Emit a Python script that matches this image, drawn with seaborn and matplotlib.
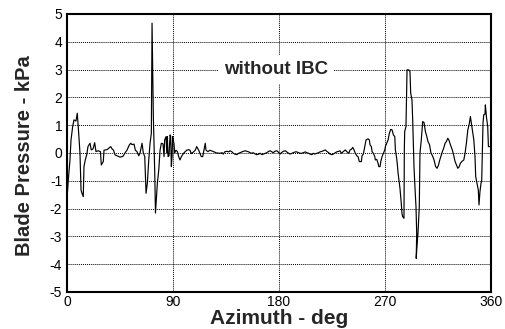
import matplotlib
matplotlib.use("Agg")
import matplotlib.pyplot as plt
import seaborn as sns
import numpy as np
from matplotlib.ticker import MultipleLocator

azimuth = [
    0.0, 1.1, 2.5, 3.4, 4.8, 5.9, 7.6, 8.7, 9.9, 11.0, 11.5, 11.9, 12.7, 13.8, 14.4, 15.5, 16.7, 17.8,
    19.5, 20.6, 22.1, 23.5, 24.6, 26.3, 28.4, 29.1, 30.8, 31.4, 34.0, 37.1, 38.2, 39.5, 40.8, 42.5,
    45.0, 47.5, 49.2, 50.9, 52.9, 54.1, 55.2, 56.9, 58.0, 59.4, 60.9, 62.0, 63.7, 64.8, 66.0, 67.1,
    68.2, 69.4, 70.5, 71.6, 72.2, 73.3, 74.5, 75.1, 76.7, 77.9, 79.0, 80.1, 81.5, 82.4, 82.9, 84.1,
    84.7, 85.2, 85.8, 86.6, 87.5, 88.0, 88.6, 89.2, 89.7, 90.2, 90.8, 91.4, 92.5, 93.7, 94.8, 95.9,
    97.1, 98.8, 99.9, 101.6, 103.3, 104.4, 105.5, 107.2, 108.9, 110.1, 111.8, 112.9, 114.0, 115.2,
    116.3, 117.4, 118.0, 119.7, 121.4, 124.2, 127.1, 129.9,
    131.6, 132.7, 133.9, 135.6, 137.3, 138.4, 140.1, 141.2, 142.4, 144.1, 145.8, 146.9, 148.6, 149.7,
    151.4, 152.6, 154.3, 155.4, 157.1, 158.2, 159.9, 161.1, 162.8, 163.9, 165.6, 166.7, 168.4, 169.6,
    171.3, 172.4, 174.1, 175.2, 176.4, 178.1, 179.2, 180.3, 180.9, 182.0, 183.7, 185.4, 186.5, 188.2,
    189.3, 191.0, 192.2, 193.8, 195.0, 196.7, 197.8, 199.5, 200.6, 202.3, 203.5, 205.2, 206.3, 208.0,
    209.1, 210.3, 212.0, 213.7, 214.8, 216.5, 217.6, 219.3, 220.5, 222.2, 223.3, 225.0, 226.1, 227.8,
    229.0, 230.7, 231.8,
    232.9, 234.6, 236.3, 237.5, 239.2, 240.3, 241.4, 242.6, 243.7, 244.8, 246.0, 247.1, 248.2, 249.9,
    250.5, 251.6, 252.8, 253.9, 255.6, 256.7, 257.3, 258.4, 259.0, 260.1, 261.3, 261.8, 263.0, 264.1,
    264.7, 265.8, 266.4, 267.5, 268.6, 269.8, 270.3, 271.4, 272.6, 273.7, 274.9, 276.0, 277.1, 278.3,
    278.8, 279.9, 280.5, 281.1, 282.2, 282.7, 283.8, 284.4, 285.0, 286.1, 286.4, 286.7, 287.8, 288.7,
    290.1, 291.2, 291.8, 292.9, 293.5, 294.0, 294.6, 295.5, 296.3, 296.9, 296.5, 297.2, 298.0, 299.1,
    299.7, 300.8, 302.0, 303.1, 304.3, 305.5, 306.5, 307.8, 309.0, 310.3, 311.6, 313.0, 314.2, 315.3,
    316.5, 317.6, 318.7, 319.8, 321.0, 322.1, 323.3, 324.4, 325.5, 327.2, 328.4, 329.5, 330.6, 331.8,
    332.9, 334.0, 335.4, 336.9, 338.0, 339.1, 340.3, 341.4, 342.5, 344.2, 345.4, 346.4, 347.0, 348.1,
    349.2, 349.8, 350.6, 351.5, 352.1, 353.2, 353.8, 354.9, 355.2, 356.1, 357.2, 357.8, 360.0,
]

pressure = [
    -1.65, -0.97, -0.25, 0.47, 0.95, 1.19, 1.15, 1.43, 0.72, 0.0, -0.72, -1.33, -1.45, -1.57, -0.49, -0.25, -0.07, 0.23,
    0.35, 0.11, 0.15, 0.37, 0.05, 0.08, 0.05, -0.43, -0.31, 0.1, 0.12, 0.23, 0.15, 0.1, -0.07, -0.1,
    -0.15, -0.12, 0.0, 0.1, 0.29, 0.35, 0.3, 0.32, 0.1, 0.05, -0.1, 0.0, 0.35, 0.0, -0.13, -1.45,
    -1.09, -0.25, 0.35, 0.71, 4.67, 1.31, -0.73, -2.16, -1.09, -0.61, 0.1, 0.35, 0.33, -0.13, 0.47, 0.59,
    0.0, 0.59, -0.13, -0.1, 0.65, 0.6, -0.49, -0.13, 0.59, 0.45, 0.35, 0.0, 0.1, 0.05, -0.13, -0.25,
    -0.13, -0.02, 0.03, 0.1, 0.12, 0.1, -0.02, 0.03, 0.1, 0.23, 0.1, -0.02, -0.13, -0.13,
    0.1, 0.35, 0.1, 0.05, 0.1, 0.05, 0.0, -0.01,
    0.01, -0.04, 0.04, 0.06, 0.04, 0.08, 0.04, -0.01, -0.04, -0.06, -0.01, 0.01, 0.04, 0.06,
    0.08, 0.06, 0.04, 0.01, -0.01, 0.01, -0.04, -0.06, -0.04, -0.01, -0.06, -0.04, -0.01, 0.01,
    0.06, 0.08, 0.04, 0.01, 0.06, 0.08, 0.04, -0.01, -0.04, 0.01, 0.06, 0.08, 0.04, -0.01,
    -0.04, -0.01, 0.01, 0.04, 0.04, 0.01, -0.01, -0.01, 0.01, 0.04, 0.01, -0.01, -0.04, -0.06,
    -0.01, -0.04, -0.01, 0.01, 0.04, 0.06, 0.08, 0.11, 0.06, 0.01, -0.04, -0.06, -0.04, 0.01,
    0.04, 0.06, 0.08,
    -0.01, 0.05, 0.11, 0.05, -0.01, 0.11, 0.13, 0.2, 0.11, -0.01, -0.1, -0.13, -0.31, -0.31,
    -0.1, -0.04, 0.23, 0.47, 0.51, 0.47, 0.29, 0.23, 0.05, -0.01, -0.13, -0.25, -0.23, -0.37,
    -0.49, -0.49, -0.31, -0.13, -0.01, 0.11, 0.23, 0.35, 0.47, 0.71, 0.85, 0.83, 0.65, 0.59,
    0.11, -0.19, -0.43, -0.73, -1.09, -1.27, -1.81, -2.17, -2.29, -2.35, 0.11, 0.77, 0.95, 2.99,
    2.99, 2.93, 2.15, 1.91, 1.19, 0.47, -0.49, -1.3, -1.93, -2.89, -3.79, -3.3, -2.89, -1.93,
    0.0, 0.47, 1.13, 1.1, 0.77, 0.59, 0.41, 0.3, 0.0, -0.1, -0.25, -0.49, -0.55, -0.45,
    -0.25, -0.1, 0.05, 0.17, 0.35, 0.41, 0.53, 0.45, 0.3, 0.1, -0.1, -0.31, -0.43, -0.55,
    -0.5, -0.37, -0.3, -0.25, 0.0, 0.35, 0.83, 1.01, 1.31, 0.83, 0.47, -0.13, -0.85, -1.1,
    -1.33, -1.87, -1.4, -1.09, -1.0, 1.07, 1.37, 1.4, 1.73, 1.3, 0.95, 0.23, 0.23,
]

x_ticks = [0, 90, 180, 270, 360]
y_ticks = [-5, -4, -3, -2, -1, 0, 1, 2, 3, 4, 5]
x_label = "Azimuth - deg"
y_label = "Blade Pressure - kPa"
annotation = "without IBC"

sns.set_style("white")
plt.rcParams["font.family"] = ["Liberation Sans", "DejaVu Sans"]

fig = plt.figure(figsize=(5.05, 3.29), dpi=100)
ax = fig.add_axes([0.1327, 0.1125, 0.8396, 0.845])

sns.lineplot(x=azimuth, y=pressure, sort=False, estimator=None, color="black",
             linewidth=0.85, ax=ax)

ax.set_xlim(0, 360)
ax.set_ylim(-5, 5)
ax.set_xticks(x_ticks)
ax.set_yticks(y_ticks)
ax.set_xticklabels([str(v) for v in x_ticks])
ax.set_yticklabels([str(v) for v in y_ticks])
ax.xaxis.set_minor_locator(MultipleLocator(18))
ax.yaxis.set_minor_locator(MultipleLocator(0.2))

ax.grid(True, which="major", color="black", linestyle=(0, (1, 1)), linewidth=0.7)
ax.set_axisbelow(True)

ax.tick_params(axis="both", which="major", direction="in", length=5, width=0.8,
               labelsize=10, colors="black", top=False, right=False)
ax.tick_params(axis="both", which="minor", direction="in", length=3.5, width=0.8,
               top=False, right=False)
ax.tick_params(axis="y", which="major", pad=3.5)
ax.tick_params(axis="x", which="major", pad=2.5)

for s in ax.spines.values():
    s.set_visible(True)
    s.set_color("black")
    s.set_linewidth(1.5)

ax.set_xlabel(x_label, fontsize=15, fontweight="bold")
ax.set_ylabel(y_label, fontsize=14.5, fontweight="bold")
ax.xaxis.set_label_coords(0.5, -0.06)
ax.yaxis.set_label_coords(-0.078, 0.49)
ax.xaxis.label.set_va("top")

ax.text(177.5, 3, annotation, fontsize=13.5, fontweight="bold", ha="center",
        va="center", bbox=dict(facecolor="white", edgecolor="none",
                               boxstyle="square,pad=0.3"), zorder=5)

fig.savefig("out.png", dpi=100, facecolor="white")
